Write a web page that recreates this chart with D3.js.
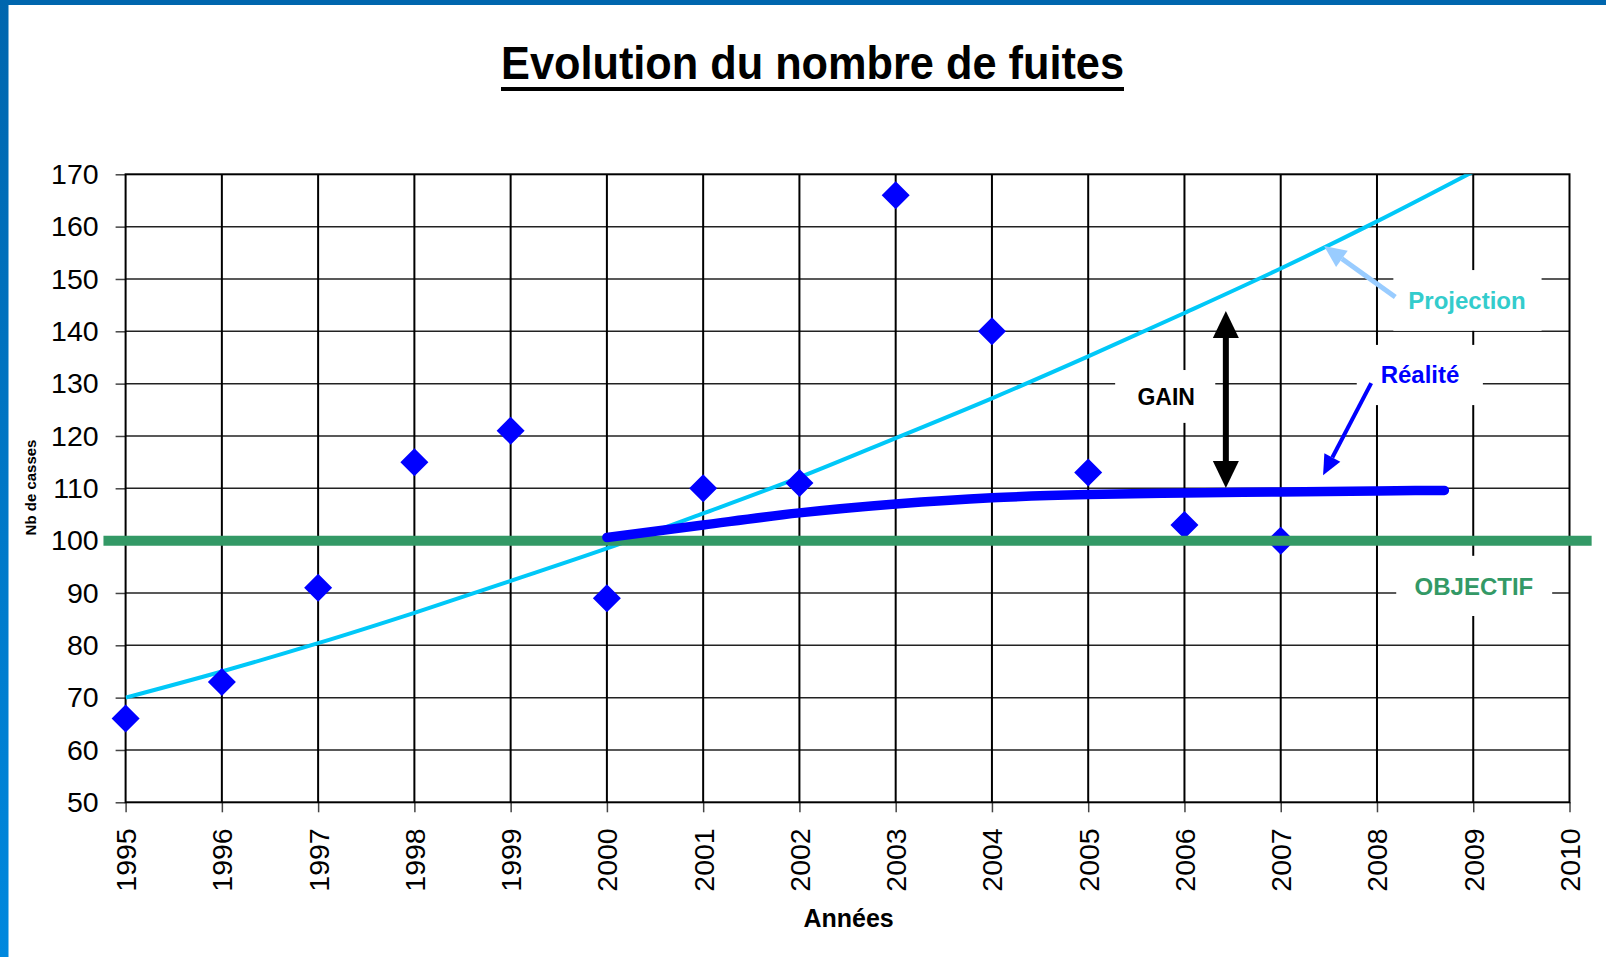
<!DOCTYPE html>
<html>
<head>
<meta charset="utf-8">
<script src="https://cdn.jsdelivr.net/npm/d3@7/dist/d3.min.js"></script>
<style>
  html, body { margin: 0; padding: 0; background: #fff; }
  svg { display: block; font-family: "Liberation Sans", Arial, sans-serif; }
</style>
</head>
<body>
<svg id="chart" width="1606" height="957"></svg>
<script>
// ---------- DATA ----------
const title = "Evolution du nombre de fuites";
const xTitle = "Années";
const yTitle = "Nb de casses";
const xTicks = [1995,1996,1997,1998,1999,2000,2001,2002,2003,2004,2005,2006,2007,2008,2009,2010];
const yTicks = [50,60,70,80,90,100,110,120,130,140,150,160,170];

// observed leaks (diamonds)
const obsYears  = [1995,1996,1997,1998,1999,2000,2001,2002,2003,2004,2005,2006,2007];
const obsValues = [66,73,91,115,121,89,110,111,166,140,113,103,100];

// projection trend
const projYears  = [1995,1996,1997,1998,1999,2000,2001,2002,2003,2004,2005,2006,2007,2008,2009];
const projValues = [70,75,80.4,86.2,92.3,98.5,105.2,112.1,119.6,127.2,135.2,143.5,152,161,170.5];

// reality curve
const realYears  = [2000,2001,2002,2003,2004,2005,2006,2007,2008,2008.7];
const realValues = [100.6,103.0,105.3,107.0,108.2,108.8,109.1,109.3,109.5,109.6];

// objective
const objectiveValue = 100;
const objectiveRange = [1994.77, 2010.23]; // years spanned by the green line

// annotation labels: text, year (centre), value (baseline)
const labelNames  = ["Projection","Réalité","GAIN","OBJECTIF"];
const labelYears  = [2008.935, 2008.447, 2005.81, 2009.007];
const labelValues = [144.26, 130.1, 126.0, 89.6];
// white boxes behind labels: yearFrom, yearTo, valueTop, valueBottom
const boxX0 = [2008.17, 2007.79, 2005.28, 2008.2];
const boxX1 = [2009.71, 2009.10, 2006.32, 2009.82];
const boxV0 = [151.7, 137.4, 132.6, 97.1];
const boxV1 = [140.1, 125.9, 122.5, 85.6];

// arrows: from (year,value) to (year,value)
const gainArrow = {x: 2006.43, from: 143.9, to: 110.06};
const realArrow = {x0: 2007.94, v0: 130.1, x1: 2007.44, v1: 112.5};
const projArrow = {x0: 2008.19, v0: 146.55, x1: 2007.45, v1: 156.3};

// ---------- LAYOUT ----------
const svg = d3.select("#chart");
const W = 1606, H = 957;
const x = d3.scaleLinear().domain([1995, 2010]).range([125.6, 1569.5]);
const y = d3.scaleLinear().domain([50, 170]).range([802.3, 174.3]);

// blue frame
const defs = svg.append("defs");
const grad = defs.append("linearGradient").attr("id","lg").attr("x1",0).attr("y1",0).attr("x2",0).attr("y2",1);
grad.append("stop").attr("offset","0%").attr("stop-color","#0066AE");
grad.append("stop").attr("offset","100%").attr("stop-color","#0088DE");
svg.append("rect").attr("x",0).attr("y",0).attr("width",W).attr("height",5).attr("fill","#0066AE");
svg.append("rect").attr("x",0).attr("y",0).attr("width",8.5).attr("height",H).attr("fill","url(#lg)");

// clip for plot
defs.append("clipPath").attr("id","plotclip").append("rect")
  .attr("x", x(1995)).attr("y", y(170)).attr("width", x(2010)-x(1995)).attr("height", y(50)-y(170));

// title
svg.append("text").attr("x", 812.5).attr("y", 79)
  .attr("text-anchor","middle").attr("font-size", 46).attr("font-weight","bold")
  .attr("textLength", 623).attr("lengthAdjust","spacingAndGlyphs").attr("fill","#000").text(title);
svg.append("rect").attr("x", 501).attr("y", 87).attr("width", 623).attr("height", 4).attr("fill","#000");

// grid
const grid = svg.append("g");
grid.selectAll("line.h").data(yTicks.filter(d => d > 50 && d < 170)).join("line")
  .attr("x1", x(1995)).attr("x2", x(2010)).attr("y1", d => y(d)).attr("y2", d => y(d))
  .attr("stroke","#222").attr("stroke-width",1.5);
grid.selectAll("line.v").data(xTicks.filter(d => d > 1995 && d < 2010)).join("line")
  .attr("y1", y(170)).attr("y2", y(50)).attr("x1", d => x(d)).attr("x2", d => x(d))
  .attr("stroke","#000").attr("stroke-width",2);

// axes
const yAxis = svg.append("g").attr("transform", `translate(${x(1995)},0)`)
  .call(d3.axisLeft(y).tickValues(yTicks).tickSize(10).tickSizeOuter(0).tickPadding(17));
yAxis.select(".domain").remove();
yAxis.selectAll(".tick line").attr("stroke","#444").attr("stroke-width",1.5);
yAxis.selectAll("text").attr("font-size", 28.5).attr("fill","#000")
  .attr("font-family", '"Liberation Sans", Arial, sans-serif');

const xAxis = svg.append("g").attr("transform", `translate(0,${y(50)})`)
  .call(d3.axisBottom(x).tickValues(xTicks).tickFormat(d3.format("d")).tickSize(10).tickSizeOuter(0));
xAxis.select(".domain").remove();
xAxis.selectAll(".tick line").attr("stroke","#444").attr("stroke-width",1.5);
xAxis.selectAll("text").attr("font-size", 28.5).attr("fill","#000")
  .attr("font-family", '"Liberation Sans", Arial, sans-serif')
  .attr("transform","rotate(-90)").attr("text-anchor","end")
  .attr("x", -26).attr("y", 0).attr("dy","0.35em");

// plot border
svg.append("rect").attr("x", x(1995)).attr("y", y(170))
  .attr("width", x(2010)-x(1995)).attr("height", y(50)-y(170))
  .attr("fill","none").attr("stroke","#000").attr("stroke-width",2);

// axis titles
svg.append("text").attr("x", (x(1995)+x(2010))/2 + 1).attr("y", 927)
  .attr("text-anchor","middle").attr("font-size",25).attr("font-weight","bold").text(xTitle);
svg.append("text").attr("transform","translate(36,487.5) rotate(-90)")
  .attr("text-anchor","middle").attr("font-size",15).attr("font-weight","bold").text(yTitle);

// label boxes (white) covering grid
svg.append("g").selectAll("rect").data(labelNames).join("rect")
  .attr("x", (d,i) => x(boxX0[i])).attr("width", (d,i) => x(boxX1[i]) - x(boxX0[i]))
  .attr("y", (d,i) => y(boxV0[i])).attr("height", (d,i) => y(boxV1[i]) - y(boxV0[i]))
  .attr("fill","#fff");

// projection line
const plot = svg.append("g").attr("clip-path","url(#plotclip)");
plot.append("path")
  .datum(projYears.map((d,i) => [d, projValues[i]]))
  .attr("d", d3.line().x(d => x(d[0])).y(d => y(d[1])).curve(d3.curveMonotoneX))
  .attr("fill","none").attr("stroke","#00C8F8").attr("stroke-width",4);

// diamonds
svg.append("g").selectAll("path").data(obsYears).join("path")
  .attr("d", d3.symbol(d3.symbolSquare, 392)())
  .attr("transform", (d,i) => `translate(${x(d)},${y(obsValues[i])}) rotate(45)`)
  .attr("fill","#0000FF");

// objective line
svg.append("line")
  .attr("x1", x(objectiveRange[0])).attr("x2", x(objectiveRange[1]))
  .attr("y1", y(objectiveValue)).attr("y2", y(objectiveValue))
  .attr("stroke","#339966").attr("stroke-width",10);

// reality line
svg.append("path")
  .datum(realYears.map((d,i) => [d, realValues[i]]))
  .attr("d", d3.line().x(d => x(d[0])).y(d => y(d[1])).curve(d3.curveMonotoneX))
  .attr("fill","none").attr("stroke","#0000FF").attr("stroke-width",9.5)
  .attr("stroke-linecap","round");

// arrows
function arrowHead(g, tipX, tipY, fromX, fromY, len, wid, color) {
  const a = Math.atan2(tipY - fromY, tipX - fromX);
  const bx = tipX - len*Math.cos(a), by = tipY - len*Math.sin(a);
  const px = -Math.sin(a)*wid/2, py = Math.cos(a)*wid/2;
  g.append("path").attr("d", `M${tipX},${tipY}L${bx+px},${by+py}L${bx-px},${by-py}Z`).attr("fill", color);
  return [bx, by];
}
const ann = svg.append("g");
// GAIN double arrow
{
  const gx = x(gainArrow.x), gy0 = y(gainArrow.from), gy1 = y(gainArrow.to);
  ann.append("line").attr("x1", gx).attr("x2", gx).attr("y1", gy0 + 20).attr("y2", gy1 - 20)
    .attr("stroke","#000").attr("stroke-width",6);
  arrowHead(ann, gx, gy0, gx, gy1, 27, 26, "#000");
  arrowHead(ann, gx, gy1, gx, gy0, 27, 26, "#000");
}
// Réalité arrow
{
  const x0 = x(realArrow.x0), y0 = y(realArrow.v0), x1 = x(realArrow.x1), y1 = y(realArrow.v1);
  const [bx, by] = arrowHead(ann, x1, y1, x0, y0, 20, 18, "#0000FF");
  ann.append("line").attr("x1", x0).attr("y1", y0).attr("x2", bx).attr("y2", by)
    .attr("stroke","#0000FF").attr("stroke-width",4);
}
// Projection arrow
{
  const x0 = x(projArrow.x0), y0 = y(projArrow.v0), x1 = x(projArrow.x1), y1 = y(projArrow.v1);
  const [bx, by] = arrowHead(ann, x1, y1, x0, y0, 22, 20, "#99CCFF");
  ann.append("line").attr("x1", x0).attr("y1", y0).attr("x2", bx).attr("y2", by)
    .attr("stroke","#99CCFF").attr("stroke-width",5);
}

// labels
const labelColors = ["#33CCCC", "#0000FF", "#000000", "#339966"];
const labelSizes = [24, 24, 23, 24];
svg.append("g").selectAll("text").data(labelNames).join("text")
  .attr("x", (d,i) => x(labelYears[i])).attr("y", (d,i) => y(labelValues[i]))
  .attr("text-anchor","middle").attr("font-weight","bold")
  .attr("font-size", (d,i) => labelSizes[i]).attr("fill", (d,i) => labelColors[i])
  .text(d => d);
</script>
</body>
</html>
